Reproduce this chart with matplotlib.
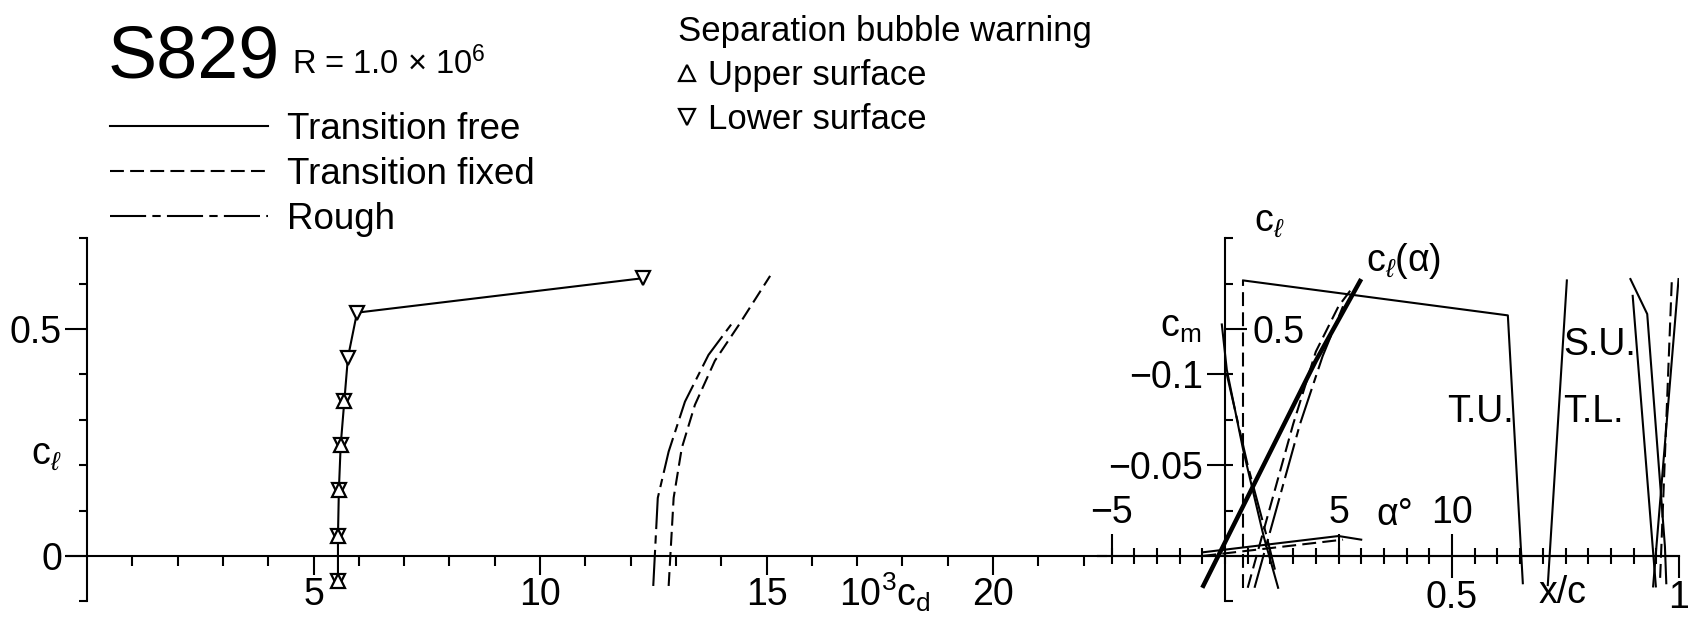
import numpy as np
import matplotlib
matplotlib.use("Agg")
import matplotlib.pyplot as plt
from matplotlib import font_manager
from matplotlib.lines import Line2D

# ---- data, R = 1.0e6 ----
# drag polar (10^3 cd vs cl)
free_cd = [5.54, 5.54, 5.56, 5.60, 5.68, 5.76, 5.96, 12.28]
free_cl = [-0.055, 0.044, 0.145, 0.244, 0.341, 0.437, 0.536, 0.612]
bubble_upper = [1, 1, 1, 1, 1, 0, 0, 0]
bubble_lower = [1, 1, 1, 1, 1, 1, 1, 1]
fixed_cd = [12.84, 12.95, 13.13, 13.42, 13.86, 14.39, 15.08]
fixed_cl = [-0.066, 0.128, 0.238, 0.333, 0.430, 0.509, 0.617]
rough_cd = [12.50, 12.60, 12.84, 13.20, 13.72, 14.28]
rough_cl = [-0.066, 0.128, 0.230, 0.340, 0.443, 0.518]

# lift curves (alpha in deg vs cl)
free_alpha = [-1, 0, 1, 2, 3, 4, 5, 6]
free_cl_a = [-0.07, 0.03, 0.13, 0.23, 0.33, 0.43, 0.52, 0.61]
fixed_alpha = [1.0, 2.0, 3.0, 4.0, 5.0, 5.6]
fixed_cl_a = [-0.07, 0.11, 0.29, 0.45, 0.55, 0.59]
rough_alpha = [1.3, 2.3, 3.3, 4.3, 5.2]
rough_cl_a = [-0.07, 0.11, 0.29, 0.44, 0.55]

# moment curves (alpha vs cm)
cm_free_alpha = [-1.0, 5.0, 6.0]
cm_free = [-0.002, -0.011, -0.009]
cm_fixed_alpha = [-1.0, 5.2]
cm_fixed = [0.0, -0.009]

# transition / separation locations (x/c vs cl)
tu_xc = [0.040, 0.623, 0.656]
tu_cl = [0.607, 0.530, -0.060]
tl_xc = [0.711, 0.753]
tl_cl = [-0.064, 0.607]
le_free_xc = [-0.007, 0.004, 0.040, 0.085, 0.117]
le_free_cl = [0.510, 0.410, 0.234, 0.044, -0.070]
le_rough_xc = [0.004, 0.050, 0.090, 0.110]
le_rough_cl = [0.400, 0.200, 0.050, -0.030]
trip_xc = [0.040, 0.040]
trip_cl = [-0.070, 0.607]
su_a_xc = [0.893, 0.930, 0.969, 0.972]
su_a_cl = [0.610, 0.533, 0.021, -0.060]
su_b_xc = [0.898, 0.949]
su_b_cl = [0.573, -0.067]
sl_c_xc = [0.999, 0.943]
sl_c_cl = [0.610, -0.067]
sl_d_xc = [0.984, 0.958]
sl_d_cl = [0.603, -0.060]

legend_labels = ["Transition free", "Transition fixed", "Rough"]
bubble_labels = ["Upper surface", "Lower surface"]
cd_ticks = [5, 10, 15, 20]
alpha_ticks = [-5, 5, 10]

# ---- fonts ----
names = {f.name for f in font_manager.fontManager.ttflist}
BASE = "Liberation Sans" if "Liberation Sans" in names else "DejaVu Sans"
NARROW = "Liberation Sans Narrow" if "Liberation Sans Narrow" in names else BASE
plt.rcParams["font.family"] = [BASE, "DejaVu Sans"]
plt.rcParams["mathtext.fontset"] = "custom"
plt.rcParams["mathtext.rm"] = BASE
plt.rcParams["mathtext.it"] = BASE + ":italic"
plt.rcParams["lines.scale_dashes"] = False
plt.rcParams["axes.linewidth"] = 1.5

LW = 1.5
DASHED = (0, (10, 4.5))
DASHDOT = (0, (26, 4.5, 6, 4.5))
TS = 27  # tick label size

W, H = 1692, 636


def fx(px):
    return px / W


def fy(py):
    return 1 - py / H


# pixel layout of the scanned sheet
Y0, PX_CL = 556.0, 454.0
CL_LIM = (-0.1, 0.7)
CD0, PX_CD = 87.0, 45.3
CD_LIM = (-0.45, 22.5)
AL0, PX_AL = 1225.0, 22.7
AL_LIM = (-5.6, 20.0)

y_bot = fy(Y0 - CL_LIM[0] * PX_CL)
y_top = fy(Y0 - CL_LIM[1] * PX_CL)


def rect(x0, x1):
    return [fx(x0), y_bot, fx(x1) - fx(x0), y_top - y_bot]


fig = plt.figure(figsize=(W / 100, H / 100), dpi=100)
fig.patch.set_facecolor("white")

# === drag polar ===
ax1 = fig.add_axes(rect(CD0 + CD_LIM[0] * PX_CD, CD0 + CD_LIM[1] * PX_CD))
ax1.set_xlim(*CD_LIM)
ax1.set_ylim(*CL_LIM)
ax1.patch.set_visible(False)
for s in ("top", "right"):
    ax1.spines[s].set_visible(False)
ax1.spines["left"].set_position(("data", 0))
ax1.spines["bottom"].set_position(("data", 0))
ax1.set_xticks(cd_ticks, labels=[str(t) for t in cd_ticks])
ax1.set_xticks(np.arange(1, 23), minor=True)
ax1.set_yticks([0, 0.5], labels=["0", "0.5"])
ax1.set_yticks([-0.1, 0.1, 0.2, 0.3, 0.4, 0.6, 0.7], minor=True)
ax1.tick_params(axis="x", which="major", direction="out", length=14, width=LW, pad=1, labelsize=TS)
ax1.tick_params(axis="x", which="minor", direction="out", length=7, width=LW)
ax1.tick_params(axis="y", which="major", direction="out", length=16, width=LW, pad=2, labelsize=TS)
ax1.tick_params(axis="y", which="minor", direction="out", length=6, width=LW)

ax1.plot(free_cd, free_cl, color="black", lw=LW)
cdu = [c for c, b in zip(free_cd, bubble_upper) if b]
clu = [c for c, b in zip(free_cl, bubble_upper) if b]
cdl = [c for c, b in zip(free_cd, bubble_lower) if b]
cll = [c for c, b in zip(free_cl, bubble_lower) if b]
mk = dict(ls="none", ms=10, mfc="white", mec="black", mew=1.6)
ax1.plot(cdl, cll, marker="v", **mk)
ax1.plot(cdu, clu, marker="^", **mk)
ax1.plot(fixed_cd, fixed_cl, color="black", lw=LW, ls=DASHED)
ax1.plot(rough_cd, rough_cl, color="black", lw=LW, ls=DASHDOT)

# === lift / moment / transition ===
ax2 = fig.add_axes(rect(AL0 + AL_LIM[0] * PX_AL, AL0 + AL_LIM[1] * PX_AL))
ax3 = ax2.twinx()
ax2.set_xlim(*AL_LIM)
ax2.set_ylim(*CL_LIM)
ax2.patch.set_visible(False)
ax2.spines["right"].set_visible(False)
ax2.spines["bottom"].set_visible(False)
ax2.spines["left"].set_position(("data", 0))
ax2.spines["top"].set_position(("data", 0))
ax2.xaxis.tick_top()
ax2.set_xticks(alpha_ticks)
ax2.tick_params(axis="x", which="major", direction="out", length=16, width=LW, pad=2,
                labelsize=TS, labeltop=True, labelbottom=False)
ax2.yaxis.tick_left()
ax2.set_yticks([0.5], labels=["0.5"])
ax2.set_yticks([-0.1, 0.1, 0.2, 0.3, 0.4, 0.6, 0.7], minor=True)
ax2.tick_params(axis="y", which="major", direction="in", length=16, width=LW, pad=-20, labelsize=TS)
ax2.tick_params(axis="y", which="minor", direction="in", length=6, width=LW)
for t in ax2.yaxis.get_major_ticks():
    t.label1.set_horizontalalignment("left")

ax3.set_ylim(-CL_LIM[0] / 4, -CL_LIM[1] / 4)
ax3.yaxis.tick_left()
ax3.spines["left"].set_position(("data", 0))
for s in ax3.spines.values():
    s.set_visible(False)
ax3.set_yticks([-0.1, -0.05], labels=["\u22120.1", "\u22120.05"])
ax3.tick_params(axis="y", direction="out", length=13, width=LW, pad=3, labelsize=TS)

sec = ax2.secondary_xaxis(0, functions=(lambda a: a / 20.0, lambda x: x * 20.0),
                          transform=ax2.transData)
sec.set_xticks([0.5, 1.0], labels=["0.5", "1"])
sec.set_xticks(np.round(np.arange(-0.25, 0.96, 0.05), 2), minor=True)
sec.tick_params(which="major", direction="out", length=16, width=LW, pad=1, labelsize=TS)
sec.tick_params(which="minor", direction="inout", length=12, width=LW)

ax4 = fig.add_axes(ax2.get_position())
ax4.set_xlim(AL_LIM[0] / 20, AL_LIM[1] / 20)
ax4.set_ylim(*CL_LIM)
ax4.axis("off")

ax2.plot(free_alpha, free_cl_a, color="black", lw=3.2, solid_capstyle="butt")
ax2.plot(fixed_alpha, fixed_cl_a, color="black", lw=LW, ls=DASHED)
ax2.plot(rough_alpha, rough_cl_a, color="black", lw=LW, ls=DASHDOT)
ax3.plot(cm_free_alpha, cm_free, color="black", lw=LW)
ax3.plot(cm_fixed_alpha, cm_fixed, color="black", lw=LW, ls=DASHED)

ax4.plot(tu_xc, tu_cl, color="black", lw=LW)
ax4.plot(tl_xc, tl_cl, color="black", lw=LW)
ax4.plot(le_free_xc, le_free_cl, color="black", lw=LW)
ax4.plot(le_rough_xc, le_rough_cl, color="black", lw=LW, ls=DASHDOT)
ax4.plot(trip_xc, trip_cl, color="black", lw=LW, ls=DASHED)
ax4.plot(su_a_xc, su_a_cl, color="black", lw=LW)
ax4.plot(su_b_xc, su_b_cl, color="black", lw=LW)
ax4.plot(sl_c_xc, sl_c_cl, color="black", lw=LW)
ax4.plot(sl_d_xc, sl_d_cl, color="black", lw=LW, ls=DASHED)

# === labels ===
fig.text(fx(46), fy(455), r"$\mathrm{c}_{\ell}$", fontsize=27, ha="center", va="center")
fig.text(fx(885), fy(592), r"$\mathrm{10^3c_d}$", fontsize=27, ha="center", va="center")
fig.text(fx(1269), fy(222), r"$\mathrm{c}_{\ell}$", fontsize=27, ha="center", va="center")
fig.text(fx(1181), fy(327), r"$\mathrm{c_m}$", fontsize=27, ha="center", va="center")
fig.text(fx(1404), fy(261), r"$\mathrm{c}_{\ell}\mathrm{(α)}$", fontsize=27, ha="center", va="center")
fig.text(fx(1395), fy(515), "α°", fontsize=27, ha="center", va="center")
fig.text(fx(1563), fy(593), "x/c", fontsize=27, ha="center", va="center")
fig.text(fx(1480), fy(412), "T.U.", fontsize=27, family=NARROW, ha="center", va="center")
fig.text(fx(1593), fy(412), "T.L.", fontsize=27, family=NARROW, ha="center", va="center")
fig.text(fx(1600), fy(345), "S.U.", fontsize=27, family=NARROW, ha="center", va="center")

fig.text(fx(108), fy(77), "S829", fontsize=58 if NARROW != BASE else 53,
         family=NARROW, va="baseline")
fig.text(fx(292), fy(74), r"R = 1.0 × 10$^{6}$", fontsize=23.5, family=NARROW, va="baseline")

handles = [Line2D([], [], color="black", lw=LW),
           Line2D([], [], color="black", lw=LW, ls=DASHED),
           Line2D([], [], color="black", lw=LW, ls=DASHDOT)]
fig.legend(handles, legend_labels, loc="upper left", bbox_to_anchor=(fx(110), fy(112)),
           frameon=False, borderpad=0, borderaxespad=0, handlelength=4.3,
           handletextpad=0.5, labelspacing=0.27, fontsize=26.5)

bh = [Line2D([], [], ls="none", marker="^", ms=11, mfc="white", mec="black", mew=1.6),
      Line2D([], [], ls="none", marker="v", ms=11, mfc="white", mec="black", mew=1.6)]
fig.legend(bh, bubble_labels, title="Separation bubble warning", title_fontsize=25,
           alignment="left", loc="upper left", bbox_to_anchor=(fx(678), fy(15)),
           frameon=False, borderpad=0, borderaxespad=0, handlelength=0.5,
           handletextpad=0.35, labelspacing=0.32, fontsize=25)

fig.savefig("out.png", dpi=100, facecolor="white")
